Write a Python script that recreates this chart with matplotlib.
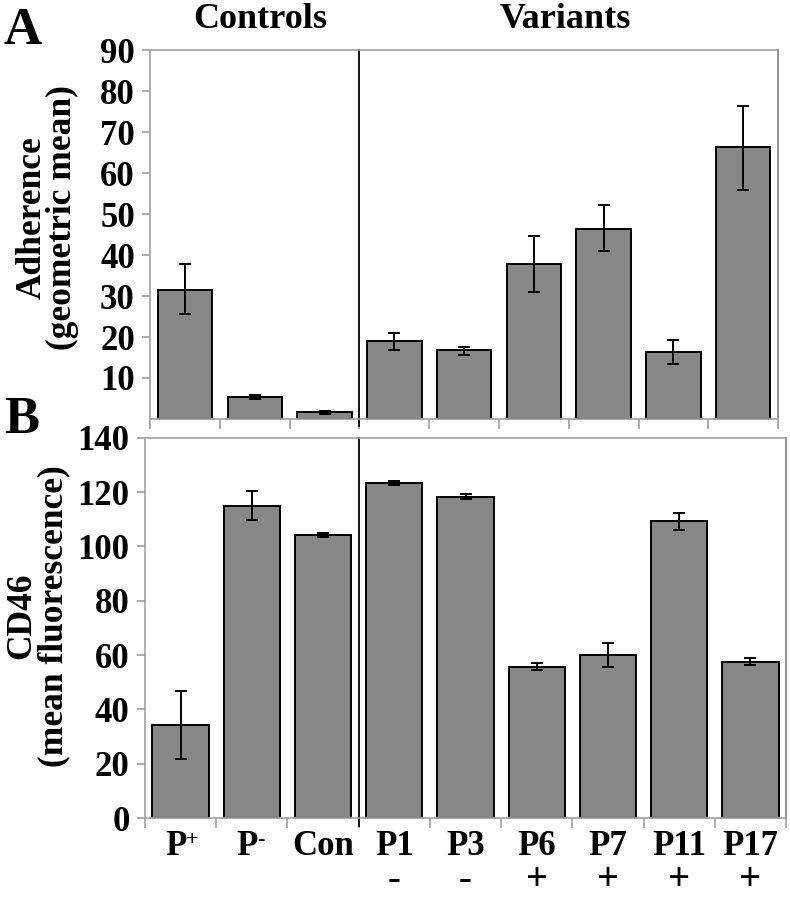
import matplotlib.pyplot as plt
import numpy as np

plt.rcParams['font.family'] = 'Liberation Serif'
plt.rcParams['font.weight'] = 'bold'
plt.rcParams['axes.labelweight'] = 'bold'

# categories (base text, superscript)
labels = ['P', 'P', 'Con', 'P1', 'P3', 'P6', 'P7', 'P11', 'P17']
supers = ['+', '-', '', '', '', '', '', '', '']
signs = ['', '', '', '-', '-', '+', '+', '+', '+']

# panel A: adherence (geometric mean), asymmetric errors
adh = [31.6, 5.4, 1.6, 19.0, 16.9, 37.9, 46.4, 16.4, 66.3]
adh_hi = [37.9, 5.8, 2.0, 21.1, 17.6, 44.7, 52.3, 19.3, 76.3]
adh_lo = [25.7, 4.9, 1.3, 16.8, 15.6, 31.1, 40.9, 13.4, 56.0]

# panel B: CD46 (mean fluorescence)
cd46 = [34.3, 115.0, 104.3, 123.3, 118.3, 55.8, 60.1, 109.2, 57.6]
cd46_err = [12.5, 5.3, 0.8, 0.7, 1.0, 1.2, 4.3, 3.0, 1.2]

bar_color = '#878787'
frame = '#a0a0a0'

fig = plt.figure(figsize=(7.9, 8.99), dpi=100)
axA = fig.add_axes([0.190, 0.534, 0.795, 0.410])
axB = fig.add_axes([0.1835, 0.090, 0.8115, 0.423])

x = np.arange(len(labels))


def style(ax, ymax, yticks):
    ax.set_xlim(-0.5, len(labels) - 0.5)
    ax.set_ylim(0, ymax)
    for s in ax.spines.values():
        s.set_color(frame)
        s.set_linewidth(1.2)
    ax.spines['right'].set_color('#808080')
    ax.set_yticks(yticks)
    ax.tick_params(axis='y', direction='out', length=6, color=frame, width=1.2,
                   labelsize=25, pad=5)
    ax.set_xticks(np.arange(len(labels) + 1) - 0.5)
    ax.set_xticklabels([])
    ax.tick_params(axis='x', direction='out', length=7, color=frame, width=1.2)
    # divider between controls and variants
    ax.plot([2.5, 2.5], [-0.02, 1.0], color='black', lw=1.3,
            transform=ax.get_xaxis_transform(), clip_on=False)


# ---- panel A
yA_lo = np.array(adh) - np.array(adh_lo)
yA_hi = np.array(adh_hi) - np.array(adh)
axA.bar(x, adh, width=0.78, color=bar_color, edgecolor='black', linewidth=1.4, zorder=2)
axA.errorbar(x, adh, yerr=[yA_lo, yA_hi], fmt='none', ecolor='black', elinewidth=1.4,
             capsize=4.3, capthick=1.4, zorder=3)
style(axA, 90, np.arange(10, 91, 10))
axA.set_ylabel('Adherence\n(geometric mean)', fontsize=25.5, linespacing=0.88)
axA.yaxis.set_label_coords(-0.113, 0.547)

axA.text(0.175, 1.085, 'Controls', transform=axA.transAxes, ha='center', va='center',
         fontsize=26)
axA.text(0.661, 1.085, 'Variants', transform=axA.transAxes, ha='center', va='center',
         fontsize=26)
fig.text(0.005, 0.965, 'A', fontsize=38, ha='left', va='center')
fig.text(0.005, 0.533, 'B', fontsize=38, ha='left', va='center')

# ---- panel B
axB.bar(x, cd46, width=0.79, color=bar_color, edgecolor='black', linewidth=1.4, zorder=2)
axB.errorbar(x, cd46, yerr=cd46_err, fmt='none', ecolor='black', elinewidth=1.4,
             capsize=4.3, capthick=1.4, zorder=3)
style(axB, 140, np.arange(0, 141, 20))
axB.set_ylabel('CD46\n(mean fluorescence)', fontsize=25.5, linespacing=0.93)
axB.yaxis.set_label_coords(-0.117, 0.532)

xt = axB.get_xaxis_transform()
for xi, lab, sp, sg in zip(x, labels, supers, signs):
    if sp:
        # letter with a small superscript sign next to it
        axB.text(xi - 0.06, -0.075, lab, transform=xt, ha='center', va='center',
                 fontsize=25)
        axB.annotate(sp, xy=(xi - 0.06, -0.075), xycoords=xt, xytext=(7, 5),
                     textcoords='offset points', ha='left', va='center', fontsize=16)
    else:
        axB.text(xi, -0.075, lab, transform=xt, ha='center', va='center', fontsize=25)
    if sg:
        axB.text(xi, -0.2135, sg, transform=xt, ha='center', va='bottom', fontsize=28)

fig.savefig('out.png', dpi=100)
